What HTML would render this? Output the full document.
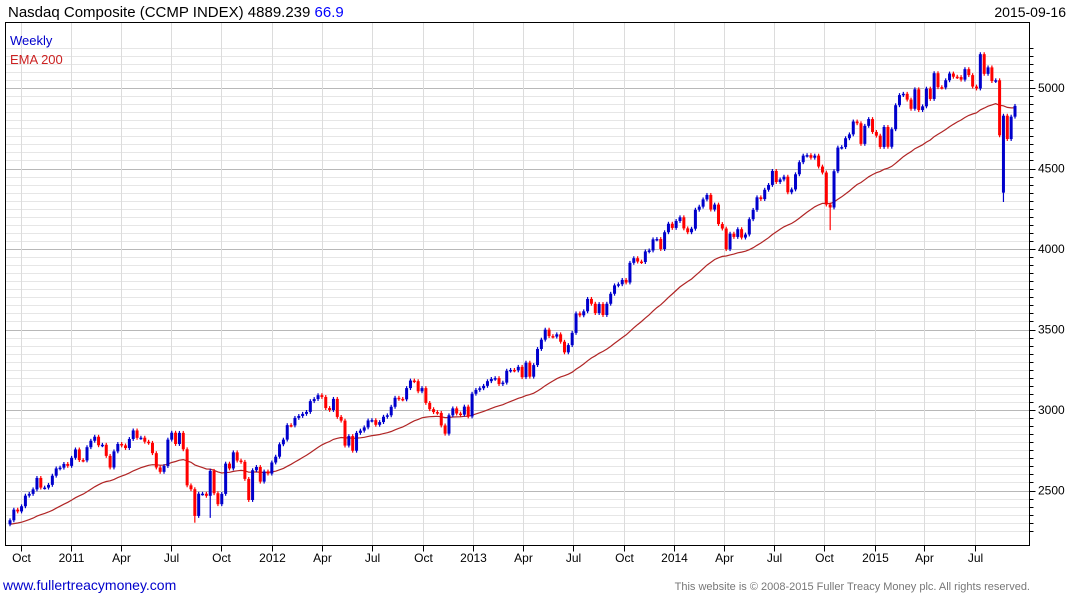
<!DOCTYPE html>
<html><head><meta charset="utf-8">
<style>
body{margin:0;background:#fff;width:1075px;height:600px;overflow:hidden;font-family:"Liberation Sans",sans-serif;}
svg{display:block}
</style></head>
<body>
<svg id="chart" width="1075" height="600" viewBox="0 0 1075 600" xmlns="http://www.w3.org/2000/svg">
<rect x="0" y="0" width="1075" height="600" fill="#fff"/>
<g id="grid"></g>
<g id="ema"></g>
<g id="candles"></g>
<g id="axes"></g>
<rect x="5.5" y="22.5" width="1024" height="523" fill="none" stroke="#000" stroke-width="1"/>
<text x="8" y="17" font-size="15" fill="#000">Nasdaq Composite (CCMP INDEX) 4889.239 <tspan fill="#0000ff">66.9</tspan></text>
<text x="1066" y="17" font-size="14" fill="#000" text-anchor="end">2015-09-16</text>
<text x="10" y="45" font-size="13" fill="#0000cc">Weekly</text>
<text x="10" y="64" font-size="13" fill="#cc2222">EMA 200</text>
<text x="3" y="590" font-size="14" fill="#0000cc">www.fullertreacymoney.com</text>
<text x="1030" y="590" font-size="11" fill="#777" text-anchor="end">This website is © 2008-2015 Fuller Treacy Money plc. All rights reserved.</text>
</svg>
<script>
const closes = [
2315,2381,2370,2402,2468,2479,2507,2578,2518,2518,2535,2592,2637,2642,2665,2653,
2703,2755,2689,2687,2769,2809,2834,2781,2784,2715,2643,2743,2789,2780,2764,2820,2873,2827,2828,2803,2796,2732,2643,2616,2652,2816,2859,2789,2858,2756,2532,2508,2342,2480,2480,2467,2622,2483,2415,2479,2667,2637,2737,2686,2678,2572,2441,2626,2646,2555,2618,2605,
2674,2710,2787,2816,2906,2904,2951,2963,2976,2988,3055,3068,3092,3081,3012,3000,3069,2957,2934,2779,2838,2747,2858,2872,2892,2935,2937,2908,2925,2958,2967,3020,3076,3069,3066,3136,3183,3179,3116,3136,3044,3005,2987,2982,2904,2853,2967,3010,2978,2971,3021,2960,
3101,3125,3135,3150,3179,3193,3198,3161,3170,3244,3249,3246,3268,3204,3294,3207,3279,3379,3437,3499,3459,3456,3470,3424,3358,3403,3479,3600,3588,3613,3690,3660,3602,3658,3590,3660,3722,3774,3781,3808,3792,3914,3943,3922,3919,3985,3991,4060,4062,4000,4104,4157,
4131,4174,4197,4128,4104,4126,4244,4263,4308,4336,4245,4276,4155,4127,3999,4095,4075,4123,4071,4090,4185,4243,4321,4310,4368,4398,4485,4416,4432,4449,4352,4370,4464,4539,4580,4583,4567,4580,4512,4475,4276,4258,4483,4630,4633,4688,4712,4792,4781,4653,4765,4807,
4727,4704,4634,4758,4635,4744,4893,4956,4964,4928,4871,4992,4863,4886,4996,4932,5092,5005,5003,5048,5090,5070,5068,5052,5117,5080,5009,4997,5210,5088,5128,5043,5048,4706,4828,4683,4822,4889
];
const firstOpen = 2290;
const lowOverrides = {idx:[48,52,213,258], val:[2300,2330,4117,4292]};
const openOverrides = {idx:[258], val:[4350]};
const yTicks = [2500,3000,3500,4000,4500,5000];
const monthLabels = ["Oct","2011","Apr","Jul","Oct","2012","Apr","Jul","Oct","2013","Apr","Jul","Oct","2014","Apr","Jul","Oct","2015","Apr","Jul"];
const monthDates = ["2010-10-01","2011-01-01","2011-04-01","2011-07-01","2011-10-01","2012-01-01","2012-04-01","2012-07-01","2012-10-01","2013-01-01","2013-04-01","2013-07-01","2013-10-01","2014-01-01","2014-04-01","2014-07-01","2014-10-01","2015-01-01","2015-04-01","2015-07-01"];
const emaSeed = 2290;

const NS="http://www.w3.org/2000/svg";
const L=5.5,R=1029.5,T=22.5,B=545.5;
const n=closes.length, x0=10, x1=1015, dx=(x1-x0)/(n-1);
const startDate=Date.UTC(2010,8,17);
function y(v){return 88+(5000-v)*0.161;}
function xi(i){return x0+i*dx;}
function xd(s){const p=s.split('-');const d=(Date.UTC(+p[0],+p[1]-1,+p[2])-startDate)/86400000;return x0+d/7*dx+3;}
function mk(tag,attrs,parent){const e=document.createElementNS(NS,tag);for(const k in attrs)e.setAttribute(k,attrs[k]);parent.appendChild(e);return e;}
const grid=document.getElementById('grid'),axes=document.getElementById('axes'),cg=document.getElementById('candles'),eg=document.getElementById('ema');
for(let v=2250;v<=5250;v+=50){const yy=Math.round(y(v))+0.5;if(yy<T||yy>B)continue;
 const major=v%500===0;
 const ln=mk('line',{x1:L,x2:R,y1:yy,y2:yy,stroke:major?'#b8b8b8':'#e6e6e6','stroke-width':1},grid);
 
 
 const tk=mk('line',{x1:R,x2:R+(major?6:4),y1:yy,y2:yy,stroke:'#000','stroke-width':1},axes);
 
 
}
yTicks.forEach(v=>{const t=mk('text',{x:1038,y:y(v)+4,'font-size':12,fill:'#000'},axes);t.textContent=v;
 
 });
monthLabels.forEach((lab,i)=>{const xx=Math.round(xd(monthDates[i]))+0.5;
 const g=mk('line',{x1:xx,x2:xx,y1:T,y2:B,stroke:'#dcdcdc','stroke-width':1},grid);
 
 
 const tk=mk('line',{x1:xx,x2:xx,y1:B,y2:B+6,stroke:'#000','stroke-width':1},axes);
 
 
 const t=mk('text',{x:xx,y:562,'font-size':12,fill:'#000','text-anchor':'middle'},axes);t.textContent=lab;
 
 });
let e=emaSeed,pts=[];const a=2/41;
closes.forEach((c,i)=>{e=i===0?emaSeed:e+a*(c-e);pts.push(xi(i).toFixed(1)+','+y(e).toFixed(1));});
const pl=mk('polyline',{points:pts.join(' '),fill:'none',stroke:'#b02525','stroke-width':1.2},eg);


closes.forEach((c,i)=>{let o=i===0?firstOpen:closes[i-1];
 const oi=openOverrides.idx.indexOf(i);if(oi>=0)o=openOverrides.val[oi];
 const up=c>=(i===0?firstOpen:closes[i-1]);const col=up?'#0000cc':'#ff0000';
 let hi=Math.max(o,c)+12,lo=Math.min(o,c)-12;
 const k=lowOverrides.idx.indexOf(i);if(k>=0)lo=lowOverrides.val[k];
 const xx=xi(i);
 const w=mk('line',{x1:xx,x2:xx,y1:y(hi),y2:y(lo),stroke:col,'stroke-width':1.2},cg);
 
 
 const top=y(Math.max(o,c)),h=Math.max(1.5,y(Math.min(o,c))-top);
 const b=mk('rect',{x:xx-1.5,y:top,width:3,height:h,fill:col},cg);
 
 
});
</script>
</body></html>
